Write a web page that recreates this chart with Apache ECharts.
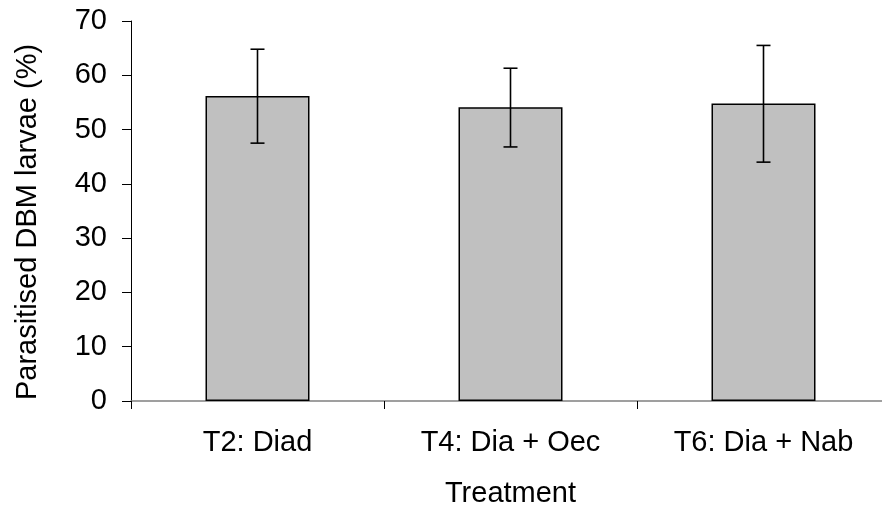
<!DOCTYPE html>
<html>
<head>
<meta charset="utf-8">
<script src="https://cdn.jsdelivr.net/npm/echarts@6/dist/echarts.min.js"></script>
<style>
  html, body { margin: 0; padding: 0; background: #fff; }
  #chart { width: 882px; height: 510px; }
</style>
</head>
<body>
<div id="chart"></div>
<script>
// Treatments and mean parasitism with error limits
const categories = ['T2: Diad', 'T4: Dia + Oec', 'T6: Dia + Nab'];
const means = [56.2, 54.1, 54.8];
const errLow = [47.5, 46.8, 44.0];
const errHigh = [64.8, 61.3, 65.5];
const yTicks = [0, 10, 20, 30, 40, 50, 60, 70];

const FONT = '"Liberation Sans", Arial, sans-serif';
const FS = 29;

const errorData = categories.map((c, i) => [i, errLow[i], errHigh[i]]);

const chart = echarts.init(document.getElementById('chart'), null, { renderer: 'canvas' });

chart.setOption({
  animation: false,
  backgroundColor: '#ffffff',
  grid: {
    left: 131, top: 21, width: 759, height: 380,
    containLabel: false,
    outerBoundsMode: 'none'
  },
  xAxis: {
    type: 'category',
    data: categories,
    name: 'Treatment',
    nameLocation: 'middle',
    nameGap: 78,
    nameTextStyle: { fontFamily: FONT, fontSize: FS, color: '#000' },
    axisLine: { lineStyle: { color: '#808080', width: 1.5 } },
    axisTick: { show: true, length: 8, alignWithLabel: false, lineStyle: { color: '#000' } },
    axisLabel: { fontFamily: FONT, fontSize: FS, color: '#000', margin: 27 },
    splitLine: { show: false }
  },
  yAxis: {
    type: 'value',
    min: yTicks[0],
    max: yTicks[yTicks.length - 1],
    interval: 10,
    name: 'Parasitised DBM larvae (%)',
    nameLocation: 'middle',
    nameGap: 89,
    nameRotate: 90,
    nameTextStyle: { fontFamily: FONT, fontSize: FS, color: '#000', padding: [0, 22, 0, 0] },
    axisLine: { show: true, lineStyle: { color: '#000', width: 1 } },
    axisTick: { show: true, length: 9, lineStyle: { color: '#000' } },
    axisLabel: { fontFamily: FONT, fontSize: FS, color: '#000', margin: 24 },
    splitLine: { show: false }
  },
  series: [
    {
      type: 'bar',
      data: means,
      barWidth: 104,
      itemStyle: { color: '#c0c0c0', borderColor: '#000', borderWidth: 1.5 }
    },
    {
      type: 'custom',
      data: errorData,
      z: 10,
      renderItem: function (params, api) {
        const x = api.value(0);
        const lo = api.coord([x, api.value(1)]);
        const hi = api.coord([x, api.value(2)]);
        const cap = 7;
        const style = { stroke: '#000', lineWidth: 1.6 };
        return {
          type: 'group',
          children: [
            { type: 'line', shape: { x1: hi[0], y1: hi[1], x2: lo[0], y2: lo[1] }, style: style },
            { type: 'line', shape: { x1: hi[0] - cap, y1: hi[1], x2: hi[0] + cap, y2: hi[1] }, style: style },
            { type: 'line', shape: { x1: lo[0] - cap, y1: lo[1], x2: lo[0] + cap, y2: lo[1] }, style: style }
          ]
        };
      }
    }
  ]
});
</script>
</body>
</html>
